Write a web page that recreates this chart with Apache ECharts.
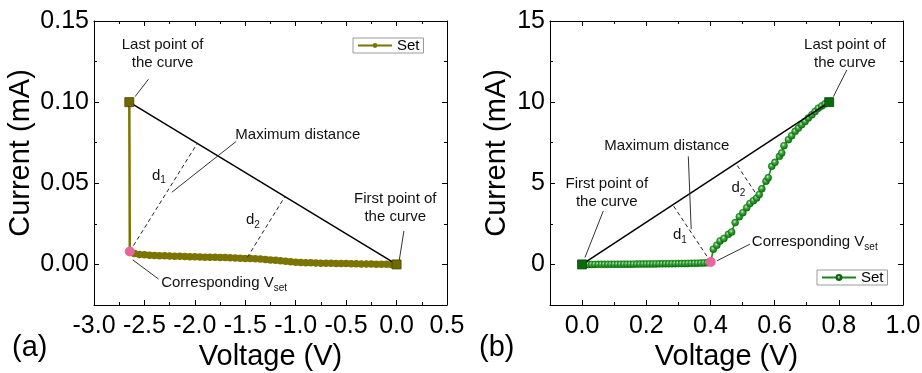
<!DOCTYPE html>
<html>
<head>
<meta charset="utf-8">
<script src="https://cdn.jsdelivr.net/npm/echarts@6/dist/echarts.min.js"></script>
<style>
  html, body { margin: 0; padding: 0; background: #fff; }
  #chart { width: 922px; height: 373px; }
</style>
</head>
<body>
<div id="chart"></div>
<script>
// ---- Panel (a): negative set sweep (V, mA) ----
const voltageA = [0.00, -0.05, -0.10, -0.15, -0.20, -0.25, -0.30, -0.35, -0.40, -0.45,
  -0.50, -0.55, -0.60, -0.65, -0.70, -0.75, -0.80, -0.85, -0.90, -0.95,
  -1.00, -1.05, -1.10, -1.15, -1.20, -1.25, -1.30, -1.35, -1.40, -1.45,
  -1.50, -1.55, -1.60, -1.65, -1.70, -1.75, -1.80, -1.85, -1.90, -1.95,
  -2.00, -2.05, -2.10, -2.15, -2.20, -2.25, -2.30, -2.35, -2.40, -2.45,
  -2.50, -2.55, -2.60, -2.645, -2.65];
const currentA = [0.0000, 0.0000, 0.0001, 0.0001, 0.0001, 0.0002, 0.0002, 0.0003, 0.0004, 0.0004,
  0.0005, 0.0005, 0.0006, 0.0007, 0.0007, 0.0008, 0.0009, 0.0010, 0.0011, 0.0012,
  0.0014, 0.0016, 0.0019, 0.0022, 0.0025, 0.0028, 0.0031, 0.0033, 0.0035, 0.0036,
  0.0037, 0.0038, 0.0040, 0.0041, 0.0042, 0.0043, 0.0044, 0.0045, 0.0045, 0.0046,
  0.0047, 0.0048, 0.0049, 0.0050, 0.0051, 0.0052, 0.0053, 0.0054, 0.0055, 0.0057,
  0.0059, 0.0061, 0.0067, 0.0080, 0.1000];
const vsetIndexA = 53;

// ---- Panel (b): positive set sweep (V, mA) ----
const voltageB = [0.00, 0.01, 0.02, 0.03, 0.04, 0.05, 0.06, 0.07, 0.08, 0.09,
  0.10, 0.11, 0.12, 0.13, 0.14, 0.15, 0.16, 0.17, 0.18, 0.19,
  0.20, 0.21, 0.22, 0.23, 0.24, 0.25, 0.26, 0.27, 0.28, 0.29,
  0.30, 0.31, 0.32, 0.33, 0.34, 0.35, 0.36, 0.37, 0.38, 0.39,
  0.401, 0.409, 0.420, 0.430, 0.442, 0.456, 0.466, 0.477, 0.490, 0.501,
  0.513, 0.523, 0.534, 0.544, 0.552, 0.560, 0.573, 0.580, 0.591, 0.601,
  0.615, 0.622, 0.629, 0.643, 0.653, 0.664, 0.674, 0.684, 0.695, 0.705,
  0.716, 0.726, 0.736, 0.747, 0.757, 0.770];
const currentB = [0.000, 0.001, 0.002, 0.002, 0.003, 0.004, 0.005, 0.006, 0.007, 0.008,
  0.010, 0.011, 0.012, 0.014, 0.015, 0.017, 0.018, 0.020, 0.022, 0.024,
  0.026, 0.028, 0.030, 0.032, 0.035, 0.037, 0.040, 0.043, 0.046, 0.049,
  0.052, 0.056, 0.060, 0.064, 0.068, 0.073, 0.078, 0.084, 0.090, 0.097,
  0.15, 0.94, 1.18, 1.45, 1.60, 1.86, 2.00, 2.58, 2.94, 3.19,
  3.50, 3.76, 3.93, 4.09, 4.31, 4.66, 5.13, 5.34, 6.05, 6.29,
  6.66, 6.87, 7.32, 7.69, 7.93, 8.20, 8.40, 8.61, 8.81, 9.02,
  9.22, 9.42, 9.63, 9.77, 9.90, 10.00];
const vsetIndexB = 40;

// ---- Axis ticks ----
const xMajorA = [-3.0, -2.5, -2.0, -1.5, -1.0, -0.5, 0.0, 0.5];
const xMinorA = [-2.75, -2.25, -1.75, -1.25, -0.75, -0.25, 0.25];
const yMajorA = [0.00, 0.05, 0.10, 0.15];
const yMinorA = [0.025, 0.075, 0.125];
const xMajorB = [0.0, 0.2, 0.4, 0.6, 0.8, 1.0];
const xMinorB = [0.1, 0.3, 0.5, 0.7, 0.9];
const yMajorB = [0, 5, 10, 15];
const yMinorB = [-2.5, 2.5, 7.5, 12.5];

const FONT = "'Liberation Sans', Arial, Helvetica, sans-serif";
const OLIVE = '#7b7400';
const GREEN = '#1a861a';
const PINK = '#e8659f';
const INK = '#111';

const pairs = (xs, ys) => xs.map((x, i) => [x, ys[i]]);
const dataA = pairs(voltageA, currentA);
const dataB = pairs(voltageB, currentB);

// Builds main, mirrored and minor-tick axes for one panel
function buildAxes(g, dim, range, major, minor, fmt, title, nameGap, namePad) {
  const isX = dim === 'x';
  const posMain = isX ? 'bottom' : 'left';
  const posMirror = isX ? 'top' : 'right';
  const black = { color: '#000', width: 1 };
  const common = {
    type: 'value', gridIndex: g, min: range[0], max: range[1],
    splitLine: { show: false }, silent: true
  };
  const main = Object.assign({}, common, {
    position: posMain,
    axisLine: { show: true, onZero: false, lineStyle: black },
    axisTick: { show: true, inside: true, length: 5, customValues: major, lineStyle: black },
    axisLabel: {
      show: true, customValues: major, formatter: fmt,
      fontSize: 25, color: '#000', fontFamily: FONT, margin: isX ? 9 : 5
    },
    name: title, nameLocation: 'middle', nameGap: nameGap, nameMoveOverlap: false,
    nameTextStyle: { fontSize: 29, color: '#000', fontFamily: FONT, padding: namePad }
  });
  const mirror = Object.assign({}, common, {
    position: posMirror,
    axisLine: { show: true, onZero: false, lineStyle: black },
    axisTick: { show: true, inside: true, length: 5, customValues: major, lineStyle: black },
    axisLabel: { show: false }
  });
  const minorAxis = pos => Object.assign({}, common, {
    position: pos,
    axisLine: { show: false, onZero: false },
    axisTick: { show: true, inside: true, length: 3, customValues: minor, lineStyle: black },
    axisLabel: { show: false }
  });
  return [main, mirror, minorAxis(posMain), minorAxis(posMirror)];
}

const xAxes = [
  ...buildAxes(0, 'x', [-3.0, 0.5], xMajorA, xMinorA, v => v.toFixed(1), 'Voltage (V)', 37, 0),
  ...buildAxes(1, 'x', [-0.1, 1.0], xMajorB, xMinorB, v => v.toFixed(1), 'Voltage (V)', 37, 0)
];
const yAxes = [
  ...buildAxes(0, 'y', [-0.025, 0.15], yMajorA, yMinorA, v => v.toFixed(2), 'Current (mA)', 59, [0, 0, 0, 20]),
  ...buildAxes(1, 'y', [-2.5, 15], yMajorB, yMinorB, v => v.toFixed(0), 'Current (mA)', 39, [0, 0, 0, 20])
];

// Annotation text with subscripts
const textRich = {
  m: { fontSize: 15, fontFamily: FONT, color: INK },
  s: { fontSize: 10, fontFamily: FONT, color: INK, padding: [10, 0, 0, 0] }
};
function textSeries(xi, yi, items) {
  return {
    type: 'scatter', xAxisIndex: xi, yAxisIndex: yi, silent: true, z: 10,
    symbolSize: 1, itemStyle: { color: 'rgba(255,255,255,0)', opacity: 1 },
    emphasis: { disabled: true },
    label: {
      show: true, position: 'inside', align: 'center', verticalAlign: 'middle',
      fontSize: 15, lineHeight: 18, fontFamily: FONT, color: INK, opacity: 1, rich: textRich
    },
    data: items.map(t => ({ value: t.at, label: { formatter: t.text } }))
  };
}

function arrowLines(list) {
  return {
    silent: true, symbol: ['none', 'arrow'], symbolSize: [0, 8], precision: 6,
    lineStyle: { color: '#333', width: 1, type: 'solid', opacity: 1 },
    label: { show: false }, emphasis: { disabled: true },
    data: list.map(a => [{ coord: a[0] }, { coord: a[1] }])
  };
}
function dashLines(list) {
  return {
    silent: true, symbol: ['none', 'none'], precision: 6,
    lineStyle: { color: '#222', width: 1, type: [4, 3], opacity: 1 },
    label: { show: false }, emphasis: { disabled: true },
    data: list.map(a => [{ coord: a[0] }, { coord: a[1] }])
  };
}

function panelSeries(opts) {
  const { xi, yi, name, data, vsetIndex, lineColor, symbolSize, itemStyle, lineWidth,
          squareColor, squareBorder, arrows, dashes, texts } = opts;
  const first = data[0];
  const last = data[data.length - 1];
  return [
    {
      name: name, type: 'line', xAxisIndex: xi, yAxisIndex: yi, z: 3,
      data: data, symbol: 'circle', symbolSize: symbolSize,
      showSymbol: true, showAllSymbol: true,
      lineStyle: { color: lineColor, width: lineWidth },
      itemStyle: itemStyle, emphasis: { disabled: true }, silent: true
    },
    {
      type: 'line', xAxisIndex: xi, yAxisIndex: yi, z: 4, silent: true,
      data: [last, first], symbol: 'none',
      lineStyle: { color: '#000', width: 1.5 },
      markLine: arrowLines(arrows)
    },
    {
      type: 'scatter', xAxisIndex: xi, yAxisIndex: yi, z: 5, silent: true,
      data: [first, last], symbol: 'rect', symbolSize: 9,
      itemStyle: { color: squareColor, borderColor: squareBorder, borderWidth: 0.8, opacity: 1 },
      emphasis: { disabled: true }
    },
    {
      type: 'scatter', xAxisIndex: xi, yAxisIndex: yi, z: 6, silent: true,
      data: [data[vsetIndex]], symbol: 'circle', symbolSize: 10,
      itemStyle: { color: PINK, opacity: 1 }, emphasis: { disabled: true },
      markLine: dashLines(dashes)
    },
    textSeries(xi, yi, texts)
  ];
}

const seriesA = panelSeries({
  xi: 0, yi: 0, name: 'Set (a)', data: dataA, vsetIndex: vsetIndexA,
  lineColor: OLIVE, symbolSize: 7.5, lineWidth: 2.5,
  itemStyle: { color: OLIVE },
  squareColor: '#6f6a00', squareBorder: '#474400',
  arrows: [
    [[-2.46, 0.1141], [-2.593, 0.1034]],
    [[-1.59, 0.0758], [-2.228, 0.0445]],
    [[0.073, 0.0206], [0.023, 0.0012]],
    [[-2.36, -0.009], [-2.616, 0.0028]]
  ],
  dashes: [
    [dataA[vsetIndexA], [-1.976, 0.0746]],
    [[-1.48, 0.0043], [-1.107, 0.0418]]
  ],
  texts: [
    { at: [-2.32, 0.130], text: 'Last point of\nthe curve' },
    { at: [-0.979, 0.0799], text: 'Maximum distance' },
    { at: [-2.356, 0.0548], text: '{m|d}{s|1}' },
    { at: [-1.424, 0.0272], text: '{m|d}{s|2}' },
    { at: [-0.013, 0.0347], text: 'First point of\nthe curve' },
    { at: [-1.71, -0.0113], text: '{m|Corresponding V}{s|set}' }
  ]
});

const seriesB = panelSeries({
  xi: 4, yi: 4, name: 'Set (b)', data: dataB, vsetIndex: vsetIndexB,
  lineColor: GREEN, symbolSize: 7, lineWidth: 1.6,
  itemStyle: {
    color: {
      type: 'radial', x: 0.42, y: 0.38, r: 0.62,
      colorStops: [
        { offset: 0, color: '#d6f2d6' },
        { offset: 0.35, color: '#3fae3f' },
        { offset: 1, color: '#0a6a0a' }
      ]
    },
    borderColor: '#0a620a', borderWidth: 0.5
  },
  squareColor: '#0b6b0b', squareBorder: '#054805',
  arrows: [
    [[0.825, 11.98], [0.783, 10.34]],
    [[0.331, 6.66], [0.340, 2.17]],
    [[0.066, 3.29], [0.009, 0.43]],
    [[0.523, 1.25], [0.420, 0.22]]
  ],
  dashes: [
    [dataB[vsetIndexB], [0.283, 3.66]],
    [[0.539, 4.45], [0.480, 6.20]]
  ],
  texts: [
    { at: [0.819, 13.0], text: 'Last point of\nthe curve' },
    { at: [0.264, 7.28], text: 'Maximum distance' },
    { at: [0.077, 4.42], text: 'First point of\nthe curve' },
    { at: [0.305, 1.82], text: '{m|d}{s|1}' },
    { at: [0.487, 4.72], text: '{m|d}{s|2}' },
    { at: [0.725, 1.39], text: '{m|Corresponding V}{s|set}' }
  ]
});

const legendBase = {
  orient: 'horizontal', selectedMode: false, itemWidth: 34, itemHeight: 6, itemGap: 5,
  padding: [0, 4, 0, 4], borderColor: '#9a9a9a', borderWidth: 1, backgroundColor: '#fff',
  textStyle: { fontSize: 15, fontFamily: FONT, color: '#000', padding: [0, 0, 0, 0] },
  formatter: () => 'Set'
};

const chart = echarts.init(document.getElementById('chart'), null, { renderer: 'canvas' });
chart.setOption({
  animation: false,
  backgroundColor: '#fff',
  textStyle: { fontFamily: FONT },
  grid: [
    { left: 94, top: 21, width: 353, height: 284, containLabel: false, outerBoundsMode: 'none' },
    { left: 550, top: 21, width: 353, height: 284, containLabel: false, outerBoundsMode: 'none' }
  ],
  xAxis: xAxes,
  yAxis: yAxes,
  legend: [
    Object.assign({}, legendBase, { left: 353, top: 38, data: ['Set (a)'] }),
    Object.assign({}, legendBase, { left: 817, top: 270, data: ['Set (b)'] })
  ],
  graphic: [
    { type: 'text', left: 12, top: 333, style: { text: '(a)', font: '29px ' + FONT, fill: '#000' } },
    { type: 'text', left: 479, top: 333, style: { text: '(b)', font: '29px ' + FONT, fill: '#000' } }
  ],
  series: [...seriesA, ...seriesB]
});
</script>
</body>
</html>
